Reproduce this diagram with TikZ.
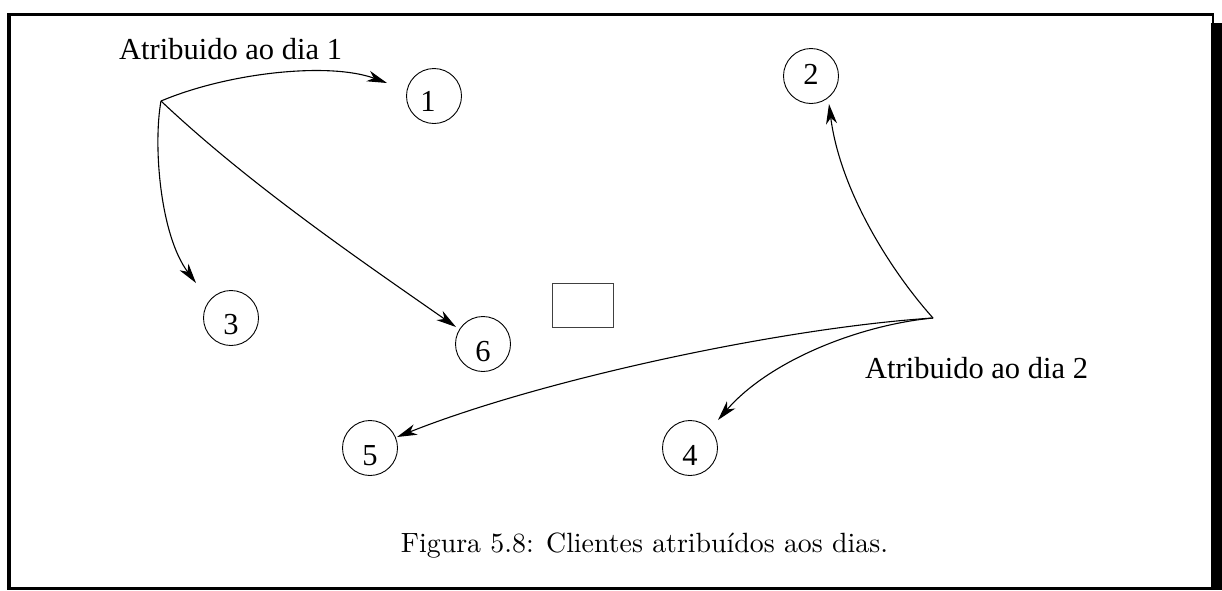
\documentclass[tikz,border=0pt]{standalone}
\usepackage{fontspec}
\usepackage{graphicx}
\newfontfamily\tms{Liberation Serif}
\usetikzlibrary{arrows.meta}
\begin{document}
\begin{tikzpicture}[x=1pt,y=-1pt,
  cl/.style={circle,draw,line width=0.9pt,minimum size=55pt,inner sep=0pt},
  dig/.style={font=\tms\fontsize{30.5}{36}\selectfont,inner sep=0pt},
  lbl/.style={font=\tms\fontsize{30.5}{36}\selectfont,inner sep=0pt,anchor=base west},
  conn/.style={line width=1.1pt,-{Stealth[length=20pt,width=11pt,inset=6pt]}},
  frm/.style={fill=black,draw=none}]
\useasboundingbox (0,0) rectangle (1222,590);
% frame
\fill[frm] (7,13) rectangle (11,590);
\fill[frm] (7,13) rectangle (1214,15.6);
\fill[frm] (1211.7,13) rectangle (1214,23.5);
\fill[frm] (1211,23.3) rectangle (1222,590);
\fill[frm] (7,587.3) rectangle (1222,590);
% circles
\node[cl,label={[dig,xshift=-6pt,yshift=-5.5pt]center:1}] (c1) at (434,96) {};
\node[cl,label={[dig,yshift=2pt]center:2}] (c2) at (811,76) {};
\node[cl,label={[dig,yshift=-7pt]center:3}] (c3) at (231,318) {};
\node[cl,label={[dig,yshift=-7.5pt]center:4}] (c4) at (690,448) {};
\node[cl,label={[dig,yshift=-7.5pt]center:5}] (c5) at (370,448) {};
\node[cl,label={[dig,yshift=-8pt]center:6}] (c6) at (483,344) {};
% box
\node[draw=black!75,line width=0.8pt,minimum width=61pt,minimum height=44pt,inner sep=0pt] (box) at (582.5,305) {};
% labels
\node[lbl] (l1) at (119,59) {Atribuido ao dia 1};
\node[lbl] (l2) at (865,378) {Atribuido ao dia 2};
\node[anchor=base,inner sep=0pt] (cap) at (644.5,552) {\resizebox{487pt}{!}{Figura 5.8: Clientes atribu\'idos aos dias.}};
% sources and tips
\coordinate (s1) at (161,101);
\coordinate (s2) at (933,318);
\coordinate (t1) at (387,83);
\coordinate (t2) at (829,104);
\coordinate (t3) at (196,283);
\coordinate (t4) at (718,420);
\coordinate (t5) at (397,437);
\coordinate (t6) at (456,327);
% connectors
\draw[conn] (s1) .. controls (230,72) and (330,62) .. (t1);
\draw[conn] (s1) .. controls (153,145) and (160,235) .. (t3);
\draw[conn] (s1) .. controls (250,185) and (360,260) .. (t6);
\draw[conn] (s2) .. controls (890,270) and (840,190) .. (t2);
\draw[conn] (s2) .. controls (780,328) and (540,380) .. (t5);
\draw[conn] (s2) .. controls (860,325) and (770,360) .. (t4);
\end{tikzpicture}
\end{document}
